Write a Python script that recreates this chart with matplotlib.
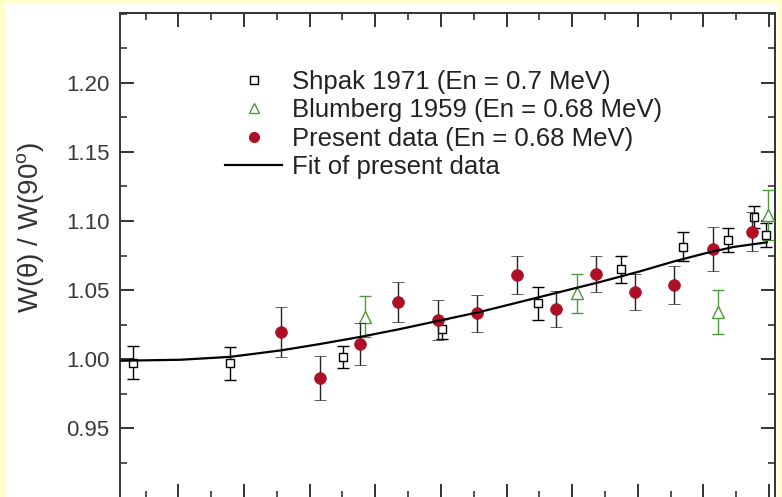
#!/usr/bin/env python3
# -*- coding: utf-8 -*-

import matplotlib
matplotlib.use("Agg")
import matplotlib.pyplot as plt
from matplotlib.lines import Line2D
from matplotlib.patches import Rectangle
from matplotlib.ticker import MultipleLocator

plt.rcParams['font.family'] = ['Liberation Sans', 'DejaVu Sans']

# Shpak 1971 (En = 0.7 MeV)
shpak_x = [0.0315, 0.1788, 0.3504, 0.5011, 0.6473, 0.7742, 0.8681, 0.9376, 0.9772, 0.9960]
shpak_y = [0.9975, 0.9970, 1.0014, 1.0219, 1.0405, 1.0650, 1.0814, 1.0862, 1.1030, 1.0898]
shpak_err = [0.012, 0.012, 0.008, 0.0075, 0.012, 0.010, 0.0105, 0.0085, 0.008, 0.009]

# Blumberg 1959 (En = 0.68 MeV)
blum_x = [0.3843, 0.7067, 0.9214, 0.9985]
blum_y = [1.0308, 1.0477, 1.0340, 1.1043]
blum_err = [0.015, 0.014, 0.016, 0.018]

# present data (En = 0.68 MeV)
pres_x = [0.2564, 0.3158, 0.3767, 0.4341, 0.4960, 0.5554, 0.6153,
          0.6747, 0.7357, 0.7955, 0.8549, 0.9147, 0.9732]
pres_y = [1.0199, 0.9863, 1.0111, 1.0416, 1.0284, 1.0332, 1.0609,
          1.0361, 1.0616, 1.0489, 1.0537, 1.0795, 1.0922]
pres_err = [0.018, 0.016, 0.015, 0.0145, 0.0145, 0.0135, 0.0135,
            0.013, 0.013, 0.013, 0.014, 0.016, 0.014]

# fit curve through the present data
fit_x = [0.0113, 0.1026, 0.1788, 0.2564, 0.3158, 0.3767, 0.4376, 0.4985,
         0.5594, 0.6203, 0.6812, 0.7421, 0.8030, 0.8533, 0.9020, 0.9461,
         0.9965]
fit_y = [0.9989, 0.9996, 1.0017, 1.0064, 1.0110, 1.0161, 1.0218, 1.0280,
         1.0342, 1.0414, 1.0486, 1.0558, 1.0635, 1.0705, 1.0765, 1.0812,
         1.0845]

yticks = [0.95, 1.00, 1.05, 1.10, 1.15, 1.20]
labels = ["Shpak 1971 (En = 0.7 MeV)", "Blumberg 1959 (En = 0.68 MeV)",
          "Present data (En = 0.68 MeV)", "Fit of present data"]

RED = "#ad1024"
GREEN = "#4c9a3c"
AXIS = "#333333"

fig = plt.figure(figsize=(7.82, 4.97), dpi=100)
fig.patch.set_facecolor("#ffffcc")
# white page inside the yellow border
fig.patches.append(Rectangle((5 / 782, 0), 772 / 782, 1 - 4 / 497,
                             transform=fig.transFigure, facecolor="white",
                             edgecolor="none", zorder=-10))

ax = fig.add_axes([120 / 782, -0.5 / 497, 655 / 782, 484 / 497])
ax.set_zorder(1)
ax.patch.set_alpha(0)

ax.errorbar(shpak_x, shpak_y, yerr=shpak_err, fmt="s", ms=6.3, mfc="white",
            mec="black", mew=1.0, ecolor="black", elinewidth=1.0,
            capsize=4, capthick=1.0, zorder=3)
ax.errorbar(blum_x, blum_y, yerr=blum_err, fmt="^", ms=8, mfc="white",
            mec=GREEN, mew=1.0, ecolor=GREEN, elinewidth=1.0,
            capsize=4, capthick=1.0, zorder=3)
ax.errorbar(pres_x, pres_y, yerr=pres_err, fmt="o", ms=8.5, mfc=RED,
            mec=RED, mew=0.5, ecolor="#222222", elinewidth=1.0,
            capsize=4, capthick=1.0, zorder=4)
ax.plot(fit_x, fit_y, "-", color="black", lw=1.6, zorder=5)

ax.set_xlim(0.011, 1.009)
ax.set_ylim(0.90, 1.25)
ax.set_yticks(yticks)
ax.set_yticklabels(["%.2f" % v for v in yticks])
ax.xaxis.set_major_locator(MultipleLocator(0.1))
ax.xaxis.set_minor_locator(MultipleLocator(0.05))
ax.yaxis.set_minor_locator(MultipleLocator(0.025))
ax.tick_params(which="both", direction="in", top=True, right=True,
               color=AXIS, labelbottom=False, labelcolor="#3a3a3a",
               labelsize=16, pad=7.5)
ax.tick_params(which="major", length=10, width=1.4)
ax.tick_params(which="minor", length=5, width=1.2)
for s in ax.spines.values():
    s.set_color(AXIS)
    s.set_linewidth(1.4)

ax.set_ylabel("W(\u03b8) / W(90$^\\mathregular{o}$)", fontsize=20,
              color="#333333")
ax.yaxis.set_label_coords(-0.112, 0.557)

# legend shows bare markers, no error bars
handles = [
    Line2D([], [], ls="none", marker="s", ms=5.5, mfc="white", mec="black", mew=1.0),
    Line2D([], [], ls="none", marker="^", ms=7, mfc="white", mec=GREEN, mew=1.0),
    Line2D([], [], ls="none", marker="o", ms=7, mfc=RED, mec=RED),
    Line2D([], [], color="black", lw=1.6),
]
fig.legend(handles, labels, loc="upper left",
           bbox_to_anchor=(225 / 782, 1 - 70 / 497), bbox_transform=fig.transFigure,
           frameon=False, fontsize=18.5, handlelength=2.22, handletextpad=0.39,
           labelspacing=0.17, borderpad=0, borderaxespad=0,
           labelcolor="#222222")

fig.savefig("out.png", dpi=100, facecolor=fig.get_facecolor())
